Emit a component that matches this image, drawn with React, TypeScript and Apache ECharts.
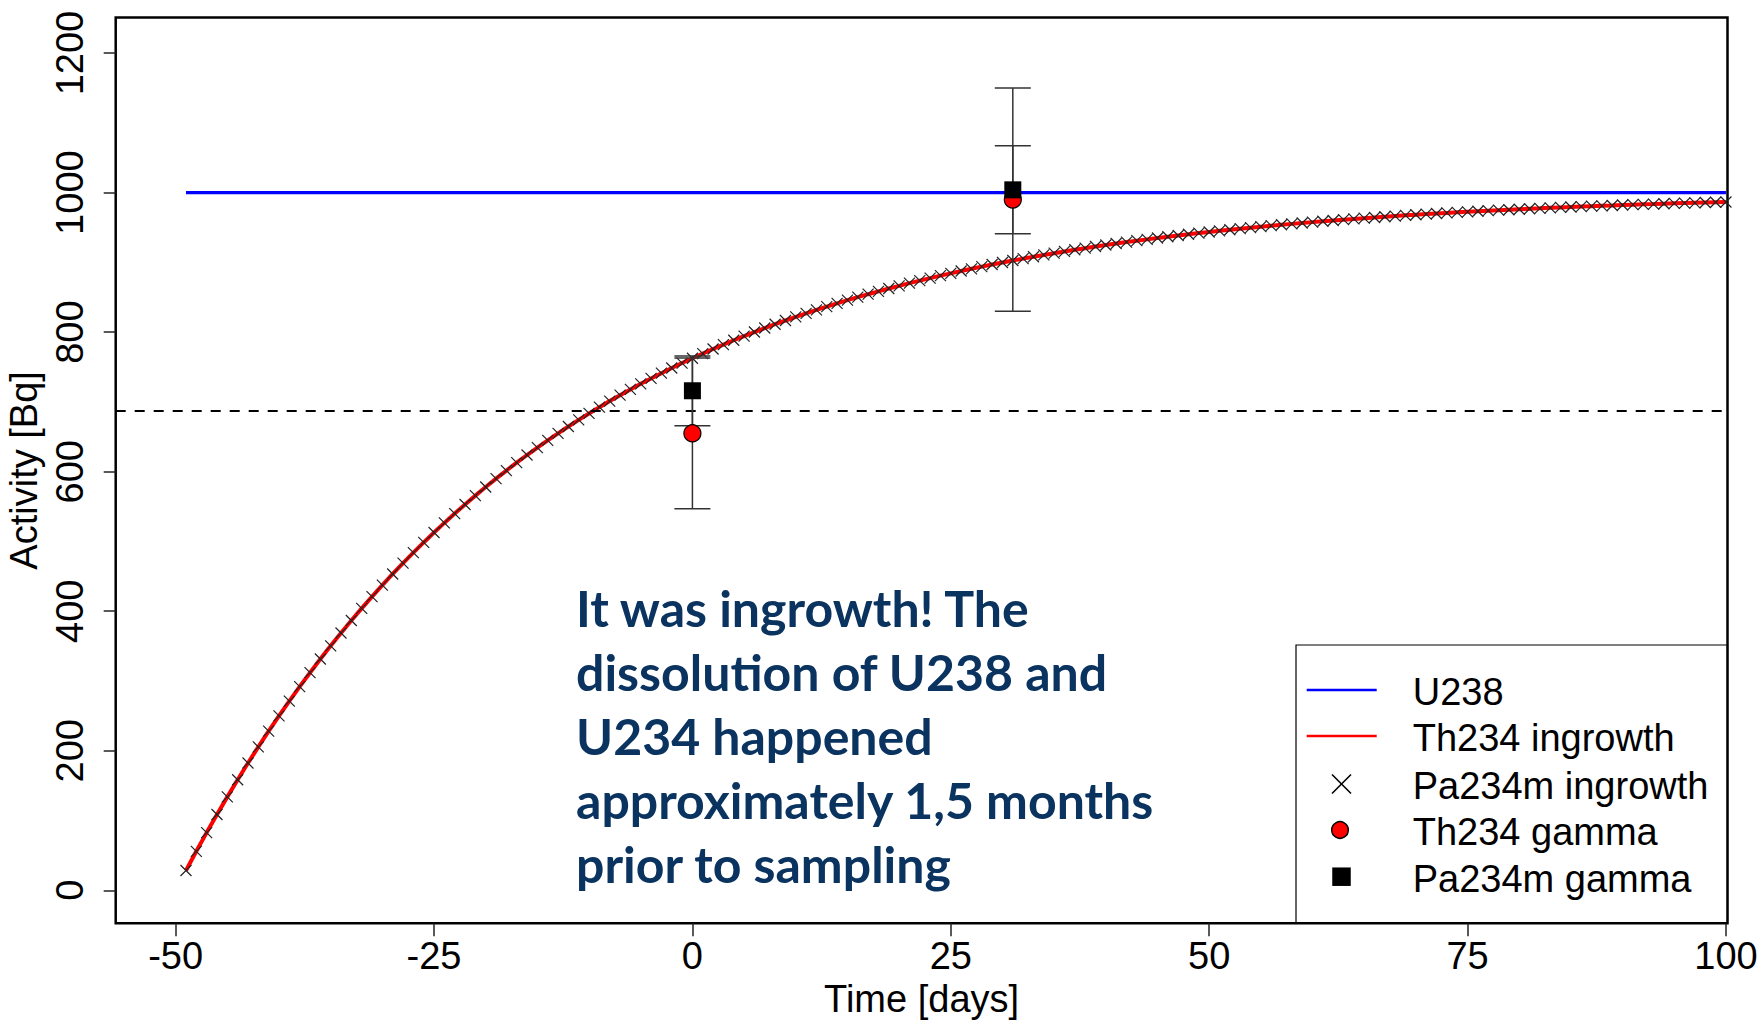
import React, { useEffect, useRef } from "react";
import * as echarts from "echarts";

// ---------- data ----------
const ingrowthDays = [
  -49, -48, -47, -46, -45, -44, -43, -42, -41, -40, -39, -38, -37, -36, -35, -34, -33, -32, -31, -30,
  -29, -28, -27, -26, -25, -24, -23, -22, -21, -20, -19, -18, -17, -16, -15, -14, -13, -12, -11, -10,
  -9, -8, -7, -6, -5, -4, -3, -2, -1, 0, 1, 2, 3, 4, 5, 6, 7, 8, 9, 10,
  11, 12, 13, 14, 15, 16, 17, 18, 19, 20, 21, 22, 23, 24, 25, 26, 27, 28, 29, 30,
  31, 32, 33, 34, 35, 36, 37, 38, 39, 40, 41, 42, 43, 44, 45, 46, 47, 48, 49, 50,
  51, 52, 53, 54, 55, 56, 57, 58, 59, 60, 61, 62, 63, 64, 65, 66, 67, 68, 69, 70,
  71, 72, 73, 74, 75, 76, 77, 78, 79, 80, 81, 82, 83, 84, 85, 86, 87, 88, 89, 90,
  91, 92, 93, 94, 95, 96, 97, 98, 99, 100,
];

const th234Ingrowth = [
  28.4, 55.9, 82.7, 108.7, 133.9, 158.5, 182.4, 205.5, 228.1,
  250.0, 271.2, 291.9, 311.9, 331.5, 350.4, 368.8, 386.7, 404.1, 421.0,
  437.4, 453.4, 468.9, 483.9, 498.6, 512.8, 526.6, 540.0, 553.0, 565.7,
  578.0, 590.0, 601.6, 612.9, 623.9, 634.6, 644.9, 655.0, 664.8, 674.3,
  683.5, 692.5, 701.2, 709.7, 717.9, 725.9, 733.7, 741.2, 748.6, 755.7,
  762.6, 769.3, 775.9, 782.2, 788.4, 794.4, 800.2, 805.9, 811.4, 816.7,
  821.9, 827.0, 831.9, 836.7, 841.3, 845.8, 850.2, 854.4, 858.5, 862.6,
  866.4, 870.2, 873.9, 877.5, 881.0, 884.3, 887.6, 890.8, 893.9, 896.9,
  899.8, 902.7, 905.4, 908.1, 910.7, 913.2, 915.7, 918.1, 920.4, 922.7,
  924.9, 927.0, 929.1, 931.1, 933.0, 934.9, 936.8, 938.6, 940.3, 942.0,
  943.6, 945.2, 946.8, 948.3, 949.8, 951.2, 952.6, 953.9, 955.2, 956.5,
  957.7, 958.9, 960.1, 961.2, 962.3, 963.4, 964.4, 965.4, 966.4, 967.4,
  968.3, 969.2, 970.1, 970.9, 971.7, 972.5, 973.3, 974.1, 974.8, 975.5,
  976.2, 976.9, 977.5, 978.2, 978.8, 979.4, 980.0, 980.6, 981.1, 981.6,
  982.2, 982.7, 983.2, 983.6, 984.1, 984.6, 985.0, 985.4, 985.8, 986.2,
  986.6,
];

// Pa234m is in equilibrium with Th234 -> markers sit on the same curve
const pa234mIngrowth = th234Ingrowth;

const u238Days = [-49, 100];
const u238Activity = [1000, 1000];

const referenceLevel = 687;

const gammaDays = [0, 31];
const th234Gamma = [655, 990];
const th234GammaErr = [108, 160];
const pa234mGamma = [716, 1004];
const pa234mGammaErr = [50, 63];

const xTicks = [-50, -25, 0, 25, 50, 75, 100];
const yTicks = [0, 200, 400, 600, 800, 1000, 1200];

const legendLabels = ["U238", "Th234 ingrowth", "Pa234m ingrowth", "Th234 gamma", "Pa234m gamma"];

const annotationLines = [
  "It was ingrowth! The",
  "dissolution of U238 and",
  "U234 happened",
  "approximately 1,5 months",
  "prior to sampling",
];

// ---------- styling ----------
const FONT = '"Liberation Sans", Arial, Helvetica, sans-serif';
const FS = 38;

function buildOption() {
  const pairs = (xs: number[], ys: number[]) => xs.map((x, i) => [x, ys[i]]);
  const errRows = (xs: number[], ys: number[], es: number[]) =>
    xs.map((x, i) => [x, ys[i] - es[i], ys[i] + es[i]]);

  const errorBarRender = (params: any, api: any) => {
    const x = api.value(0);
    const lo = api.coord([x, api.value(1)]);
    const hi = api.coord([x, api.value(2)]);
    const hw = 18;
    const st = { stroke: "#333", lineWidth: 1.5 };
    return {
      type: "group",
      children: [
        { type: "line", shape: { x1: lo[0], y1: lo[1], x2: hi[0], y2: hi[1] }, style: st },
        { type: "line", shape: { x1: lo[0] - hw, y1: lo[1], x2: lo[0] + hw, y2: lo[1] }, style: st },
        { type: "line", shape: { x1: hi[0] - hw, y1: hi[1], x2: hi[0] + hw, y2: hi[1] }, style: st },
      ],
    };
  };

  // legend drawn as graphic
  const LX1 = 1306.7;
  const LX2 = 1376.7;
  const LCX = 1341.5;
  const TX = 1412.7;
  const rows = [690, 736, 784, 830, 876.7];
  const legendGraphics: any[] = [
    {
      type: "rect",
      z: 100,
      shape: { x: 1296, y: 645, width: 431.5, height: 278 },
      style: { fill: "none", stroke: "#000", lineWidth: 1.2 },
    },
    { type: "line", z: 100, shape: { x1: LX1, y1: rows[0], x2: LX2, y2: rows[0] }, style: { stroke: "#0000FF", lineWidth: 2.5 } },
    { type: "line", z: 100, shape: { x1: LX1, y1: rows[1], x2: LX2, y2: rows[1] }, style: { stroke: "#FF0000", lineWidth: 2.5 } },
    { type: "line", z: 100, shape: { x1: LCX - 9.5, y1: rows[2] - 9.5, x2: LCX + 9.5, y2: rows[2] + 9.5 }, style: { stroke: "#000", lineWidth: 1.6 } },
    { type: "line", z: 100, shape: { x1: LCX - 9.5, y1: rows[2] + 9.5, x2: LCX + 9.5, y2: rows[2] - 9.5 }, style: { stroke: "#000", lineWidth: 1.6 } },
    { type: "circle", z: 100, shape: { cx: LCX - 1.5, cy: rows[3], r: 8.3 }, style: { fill: "#FF0000", stroke: "#000", lineWidth: 1.5 } },
    { type: "rect", z: 100, shape: { x: LCX - 9.25, y: rows[4] - 9.25, width: 18.5, height: 18.5 }, style: { fill: "#000" } },
  ];
  legendLabels.forEach((t, i) => {
    legendGraphics.push({
      type: "text",
      z: 100,
      x: TX,
      y: rows[i] + 2,
      style: {
        text: t,
        fontSize: FS,
        fontFamily: FONT,
        fill: "#000",
        align: "left",
        verticalAlign: "middle",
      },
    });
  });

  const annotation = {
    type: "text",
    z: 100,
    x: 576,
    y: 576.5,
    style: {
      text: annotationLines.join("\n"),
      fontSize: 50,
      fontFamily: "Lato, 'Open Sans', sans-serif",
      fontWeight: "bold",
      fill: "#0A3360",
      lineHeight: 63.8,
      align: "left",
      verticalAlign: "top",
    },
  };

  return {
    animation: false,
    backgroundColor: "#ffffff",
    grid: {
      left: 115.7,
      top: 17.5,
      right: 33.5,
      bottom: 96.7,
      show: true,
      borderColor: "#000",
      borderWidth: 2.5,
      backgroundColor: "transparent",
      containLabel: false,
      outerBoundsMode: "none",
    },
    xAxis: {
      type: "value",
      min: -55.8,
      max: 100.15,
      axisLine: { show: false, onZero: false },
      axisTick: { show: true, length: 13, customValues: xTicks, lineStyle: { color: "#222", width: 1.5 } },
      axisLabel: {
        customValues: xTicks,
        fontSize: FS,
        fontFamily: FONT,
        color: "#000",
        margin: 14,
        formatter: (v: number) => String(v),
      },
      splitLine: { show: false },
      name: "Time [days]",
      nameLocation: "middle",
      nameGap: 56,
      nameTextStyle: { fontSize: FS, fontFamily: FONT, color: "#000" },
    },
    yAxis: {
      type: "value",
      min: -47.3,
      max: 1251,
      axisLine: { show: false, onZero: false },
      axisTick: { show: true, length: 12, customValues: yTicks, lineStyle: { color: "#222", width: 1.5 } },
      axisLabel: {
        customValues: yTicks,
        rotate: 90,
        fontSize: FS,
        fontFamily: FONT,
        color: "#000",
        margin: 27,
        formatter: (v: number) => String(v),
      },
      splitLine: { show: false },
      name: "Activity [Bq]",
      nameLocation: "middle",
      nameGap: 68,
      nameRotate: 90,
      nameTextStyle: { fontSize: FS, fontFamily: FONT, color: "#000" },
    },
    series: [
      {
        name: "U238",
        type: "line",
        data: pairs(u238Days, u238Activity),
        symbol: "none",
        lineStyle: { color: "#0000FF", width: 3.3 },
        z: 2,
        markLine: {
          silent: true,
          symbol: ["none", "none"],
          label: { show: false },
          lineStyle: { color: "#000", width: 2, type: [10, 9] },
          data: [{ yAxis: referenceLevel }],
        },
      },
      {
        name: "Th234 ingrowth",
        type: "line",
        data: pairs(ingrowthDays, th234Ingrowth),
        symbol: "none",
        lineStyle: { color: "#FF0000", width: 4 },
        z: 3,
      },
      {
        name: "Pa234m ingrowth",
        type: "scatter",
        data: pairs(ingrowthDays, pa234mIngrowth),
        symbol: "path://M0 0L10 10M10 0L0 10",
        symbolSize: 11,
        itemStyle: { color: "none", borderColor: "#222", borderWidth: 1.2, opacity: 1 },
        z: 4,
      },
      {
        name: "Th234 gamma err",
        type: "custom",
        data: errRows(gammaDays, th234Gamma, th234GammaErr),
        encode: { x: 0, y: [1, 2] },
        renderItem: errorBarRender,
        z: 5,
      },
      {
        name: "Pa234m gamma err",
        type: "custom",
        data: errRows(gammaDays, pa234mGamma, pa234mGammaErr),
        encode: { x: 0, y: [1, 2] },
        renderItem: errorBarRender,
        z: 5,
      },
      {
        name: "Th234 gamma",
        type: "scatter",
        data: pairs(gammaDays, th234Gamma),
        symbol: "circle",
        symbolSize: 17,
        itemStyle: { color: "#FF0000", borderColor: "#000", borderWidth: 1.2, opacity: 1 },
        z: 6,
      },
      {
        name: "Pa234m gamma",
        type: "scatter",
        data: pairs(gammaDays, pa234mGamma),
        symbol: "rect",
        symbolSize: 17,
        itemStyle: { color: "#000", opacity: 1 },
        z: 7,
      },
    ],
    graphic: [...legendGraphics, annotation],
  };
}

export default function App() {
  const ref = useRef<HTMLDivElement | null>(null);
  useEffect(() => {
    if (!ref.current) return;
    const chart = echarts.init(ref.current, null, { renderer: "svg" });
    chart.setOption(buildOption() as any);
    return () => {
      chart.dispose();
    };
  }, []);
  return (
    <div
      ref={ref}
      style={{ position: "absolute", left: 0, top: 0, width: 1761, height: 1020, background: "#fff" }}
    />
  );
}
